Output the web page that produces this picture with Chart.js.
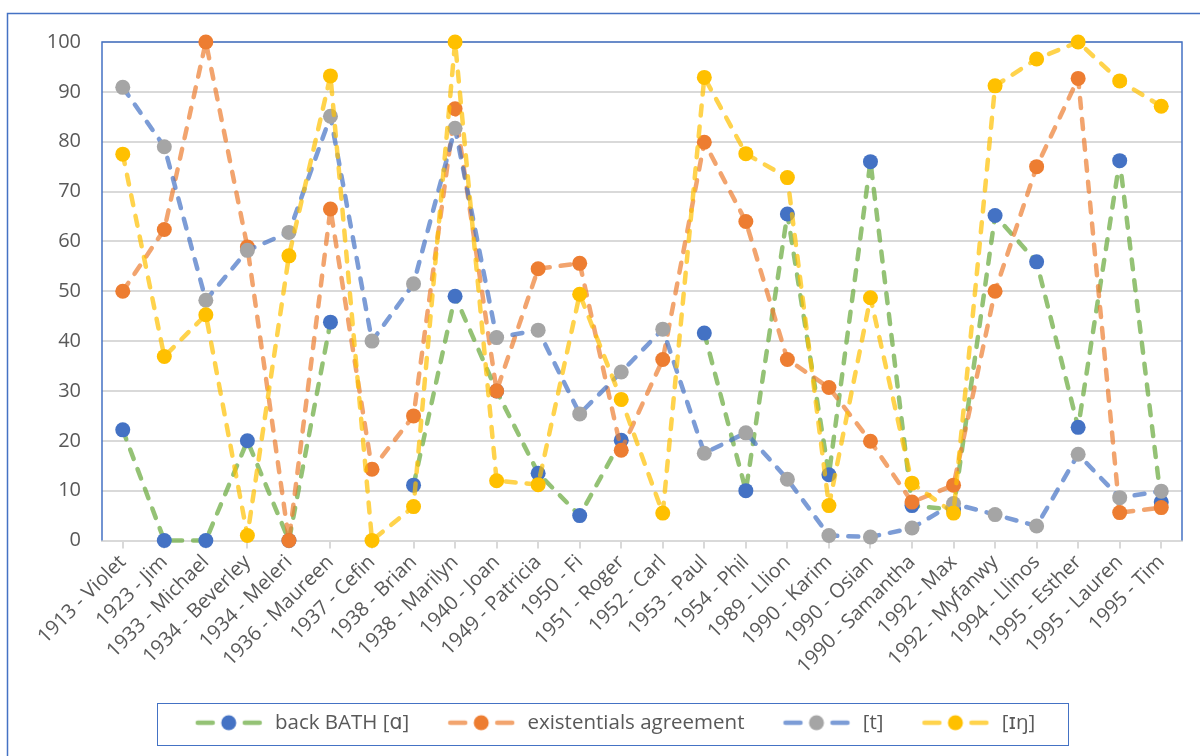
<!DOCTYPE html>
<html>
<head>
<meta charset="utf-8">
<script src="https://cdn.jsdelivr.net/npm/chart.js@4.4.1/dist/chart.umd.min.js"></script>
<style>
  html, body { margin: 0; padding: 0; background: #fff; }
  #wrap { width: 1200px; height: 756px; }
</style>
</head>
<body>
<div id="wrap"><canvas id="grafico" width="1200" height="756"></canvas></div>
<script>
// Categorias (ano - nome)
const categorias = [
  '1913 - Violet', '1923 - Jim', '1933 - Michael', '1934 - Beverley', '1934 - Meleri',
  '1936 - Maureen', '1937 - Cefin', '1938 - Brian', '1938 - Marilyn', '1940 - Joan',
  '1949 - Patricia', '1950 - Fi', '1951 - Roger', '1952 - Carl', '1953 - Paul',
  '1954 - Phil', '1989 - Llion', '1990 - Karim', '1990 - Osian', '1990 - Samantha',
  '1992 - Max', '1992 - Myfanwy', '1994 - Llinos', '1995 - Esther', '1995 - Lauren',
  '1995 - Tim'
];

// Séries
const backBath = [22.2, 0, 0, 20, 0, 43.8, null, 11.1, 49, 30, 13.5, 5, 20.1, null, 41.6,
  10, 65.5, 13.2, 76, 7, 6.2, 65.2, 55.9, 22.7, 76.2, 7.7];
const existentials = [50, 62.4, 100, 58.9, 0, 66.5, 14.3, 25, 86.6, 30, 54.5, 55.6, 18.1, 36.3, 79.9,
  64, 36.3, 30.7, 19.9, 7.7, 11.1, 50, 75, 92.7, 5.6, 6.6];
const tGlottal = [90.9, 79, 48.2, 58.2, 61.8, 85.1, 40, 51.5, 82.7, 40.7, 42.2, 25.4, 33.8, 42.4, 17.5,
  21.6, 12.3, 1, 0.7, 2.5, 7.4, 5.2, 2.9, 17.3, 8.6, 9.9];
const ing = [77.5, 36.9, 45.3, 1, 57.1, 93.2, 0, 6.8, 100, 12, 11.2, 49.4, 28.3, 5.5, 92.9,
  77.6, 72.8, 7, 48.7, 11.5, 5.5, 91.2, 96.6, 100, 92.2, 87.1];

// Eixo Y
const yMin = 0;
const yMax = 100;
const yStep = 10;

const nomes = ['back BATH [ɑ]', 'existentials agreement', '[t]', '[ɪŋ]'];
const corLinha = ['rgba(112,173,71,0.75)', 'rgba(237,125,49,0.7)', 'rgba(68,114,196,0.7)', 'rgba(255,192,0,0.7)'];
const corPonto = ['#4472C4', '#ED7D31', '#A5A5A5', '#FFC000'];

const FONTE = "'Open Sans', 'DejaVu Sans', sans-serif";
const CINZA = '#595959';

// símbolo da legenda: traço - bola - traço
function simbolo(i) {
  const c = document.createElement('canvas');
  c.width = 98; c.height = 18;
  const g = c.getContext('2d');
  const x0 = 29, cy = 9;
  g.strokeStyle = corLinha[i];
  g.lineWidth = 4.5;
  g.lineCap = 'round';
  g.beginPath();
  g.moveTo(x0 + 2, cy); g.lineTo(x0 + 17, cy);
  g.moveTo(x0 + 49, cy); g.lineTo(x0 + 64, cy);
  g.stroke();
  g.fillStyle = corPonto[i];
  g.beginPath();
  g.arc(x0 + 33, cy, 7.5, 0, Math.PI * 2);
  g.fill();
  return c;
}

const molduras = {
  id: 'molduras',
  beforeDatasetsDraw(chart) {
    const { ctx, chartArea: a } = chart;
    ctx.save();
    ctx.strokeStyle = '#4472C4';
    ctx.lineWidth = 1.5;
    ctx.beginPath();
    ctx.moveTo(a.left, a.bottom);
    ctx.lineTo(a.left, a.top);
    ctx.lineTo(a.right, a.top);
    ctx.lineTo(a.right, a.bottom);
    ctx.stroke();
    ctx.restore();
  },
  afterDraw(chart) {
    const { ctx } = chart;
    ctx.save();
    ctx.strokeStyle = '#4472C4';
    ctx.lineWidth = 1.5;
    // moldura externa
    ctx.beginPath();
    ctx.moveTo(7.5, 756);
    ctx.lineTo(7.5, 13.5);
    ctx.lineTo(1200, 13.5);
    ctx.stroke();
    // caixa da legenda
    const hb = chart.legend.legendHitBoxes;
    if (hb && hb.length) {
      const first = hb[0], last = hb[hb.length - 1];
      const left = first.left + 29 - 39;
      const right = last.left + last.width + 32;
      ctx.lineWidth = 1;
      ctx.strokeRect(Math.round(left) + 0.5, 703.5, Math.round(right - left), 42);
    }
    ctx.restore();
  }
};

window.addEventListener('DOMContentLoaded', () => {
  const series = [backBath, existentials, tGlottal, ing];
  const ctx = document.getElementById('grafico').getContext('2d');
  new Chart(ctx, {
    type: 'line',
    data: {
      labels: categorias,
      datasets: series.map((d, i) => ({
        label: nomes[i],
        data: d,
        order: series.length - i,
        borderColor: corLinha[i],
        backgroundColor: corPonto[i],
        borderWidth: 4.5,
        borderDash: [10, 11],
        borderCapStyle: 'round',
        borderJoinStyle: 'round',
        pointRadius: 7.5,
        pointHoverRadius: 7.5,
        pointBorderWidth: 0,
        pointBackgroundColor: corPonto[i],
        pointStyle: 'circle',
        tension: 0,
        spanGaps: false,
        clip: false
      }))
    },
    options: {
      responsive: false,
      animation: false,
      devicePixelRatio: 1,
      layout: { padding: { left: 20, top: 42, right: 18, bottom: 13 } },
      plugins: {
        tooltip: { enabled: false },
        legend: {
          position: 'bottom',
          labels: {
            usePointStyle: true,
            pointStyleWidth: 98,
            padding: 10,
            color: CINZA,
            font: { family: FONTE, size: 20.5 },
            sort: (a, b) => a.datasetIndex - b.datasetIndex,
            generateLabels: (chart) => chart.data.datasets.map((ds, i) => ({
              text: ds.label,
              datasetIndex: i,
              pointStyle: simbolo(i),
              fillStyle: corPonto[i],
              strokeStyle: corPonto[i],
              lineWidth: 0,
              fontColor: CINZA,
              hidden: false
            }))
          }
        }
      },
      scales: {
        x: {
          offset: true,
          grid: {
            display: true,
            drawOnChartArea: false,
            drawTicks: true,
            tickLength: 8,
            color: '#d9d9d9',
            lineWidth: 2
          },
          border: { display: true, color: '#d9d9d9', width: 2 },
          ticks: {
            autoSkip: false,
            maxRotation: 45,
            minRotation: 45,
            padding: 2,
            color: CINZA,
            font: { family: FONTE, size: 20 }
          },
          afterFit: (s) => { s.height = 162; }
        },
        y: {
          min: yMin,
          max: yMax,
          grid: { color: '#d9d9d9', lineWidth: 2, drawTicks: false },
          border: { display: false },
          ticks: {
            stepSize: yStep,
            padding: 21,
            color: CINZA,
            font: { family: FONTE, size: 20 }
          },
          afterFit: (s) => { s.width = 82; }
        }
      }
    },
    plugins: [molduras]
  });
});
</script>
</body>
</html>
